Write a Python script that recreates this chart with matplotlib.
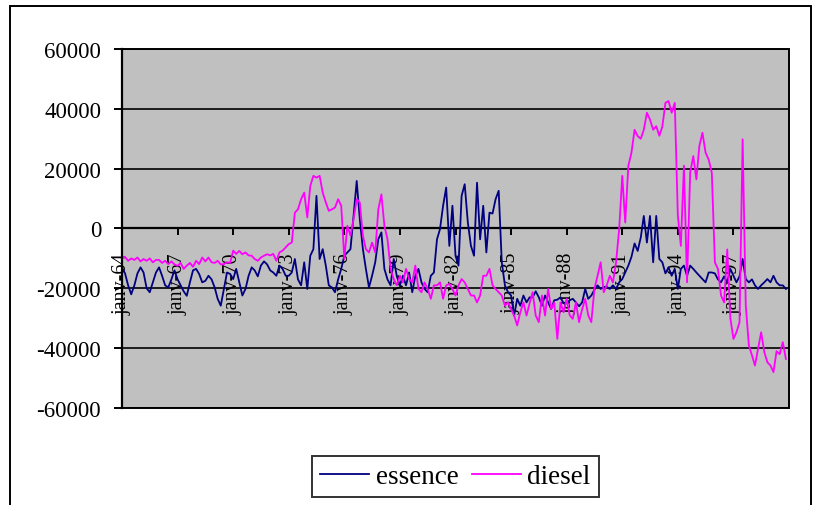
import matplotlib
matplotlib.use("Agg")
import matplotlib.pyplot as plt
from matplotlib.patches import Rectangle
import pandas as pd
import numpy as np

plt.rcParams['font.family'] = ['Liberation Serif', 'DejaVu Serif']

# bimonthly values, in thousands, 1964-1999 (6 per year)
essence_k = [
    -13, -15, -19, -22, -19, -15,
    -13, -14.7, -20, -21.3, -18, -14.7,
    -13, -15.8, -19, -19.7, -17, -14,
    -17, -19, -21, -22.5, -18, -14,
    -13.5, -15.2, -18, -17.5, -15.8, -17,
    -19.7, -23.5, -25.8, -20.2, -14.7, -15.2,
    -16.9, -13.5, -18, -22.4, -20.2, -15.8,
    -13, -14, -16, -12.4, -11, -12,
    -14, -14.7, -15.8, -12.4, -13.5, -15.8,
    -15.8, -14.7, -10.2, -17, -19, -11.3,
    -20.2, -9.1, -6.9, 10.9, -10.2, -6.9,
    -12.4, -19, -19.7, -21.3, -17, -13.5,
    -9.1, -8, -6.9, 4.2, 15.9, 3.1,
    -6.9, -13.5, -19.7, -15.8, -11.3, -3.6,
    -1.3, -13.5, -17, -19, -10.2, -16,
    -19, -15.8, -19, -14.7, -21.3, -15.8,
    -13.5, -18, -20.2, -21.3, -15.8, -14.7,
    -3.6, -0.2, 7.6, 13.7, -5.8, 7.6,
    -9.1, -12.4, 10.9, 14.8, 2, -5.8,
    -9.1, 15.3, -3.6, 7.6, -8, 5.3,
    5, 9.8, 12.6, -11.3, -19, -21.3,
    -22.4, -29.1, -23.5, -25.8, -22.4, -24.7,
    -23, -23, -21, -23, -25.8, -22.4,
    -24.7, -26.9, -24, -23.8, -23, -25,
    -25, -24, -23.5, -24.7, -26, -24.7,
    -20.2, -23.5, -22.4, -20.5, -19, -20.2,
    -19.5, -19.5, -20.2, -19, -20.2, -18,
    -16.9, -14.7, -12.4, -9.5, -5, -7.5,
    -3, 4.2, -4.7, 4.2, -11.3, 4.2,
    -10.2, -11.3, -15, -13, -15.8, -13.5,
    -20.2, -13.5, -12.4, -15.8, -12.4, -13.5,
    -14.7, -15.8, -16.9, -18, -14.7, -14.7,
    -15, -17, -18, -16, -18, -13.5,
    -15.8, -18, -16, -10.2, -16.9, -18,
    -17, -19, -20.2, -19, -18, -16.9,
    -18, -15.8, -18, -19, -19, -20.2,
]

diesel_k = [
    -10, -9.5, -10.8, -10, -10.5, -9.7,
    -11, -10.2, -10.8, -10, -11.3, -10.5,
    -10.5, -11.5, -10.8, -11.9, -11, -12,
    -12.5, -11.5, -13.5, -12.4, -11.5, -12.8,
    -10.8, -11.9, -9.7, -11, -9.7, -11.3,
    -11.5, -10.8, -12, -11.9, -11.3, -11.5,
    -7.4, -8.5, -7.5, -8.6, -8, -9,
    -9.1, -10.2, -10.8, -9.7, -9.1, -8.6,
    -9, -8.5, -10.8, -8, -7.4, -6.3,
    -5.2, -4.7, 5.3, 6.4, 9.8, 12,
    3.7, 14.2, 17.6, 17, 17.6, 12,
    8.7, 5.9, 6.4, 7, 9.8, 7.6,
    -10.2, 0.9, -2.4, 3.1, 9.8, 8.7,
    -2.4, -6.9, -8, -4.7, -8, 6.4,
    11.4, 0.9, -3.6, -13.5, -16.9, -19,
    -15.8, -18, -13.5, -16.9, -18, -12.4,
    -20.2, -21.3, -18, -20.2, -23.5, -19,
    -19, -18, -23.5, -19, -18.5, -20.2,
    -22.4, -19, -16.9, -18, -20.2, -22.4,
    -22.4, -24.7, -22.4, -15.8, -15.8, -13.5,
    -19, -20.2, -21.3, -22.4, -25.8, -24.7,
    -27, -29.1, -32.4, -28, -24.7, -29.1,
    -25, -21.3, -29.1, -31.3, -22.4, -29.1,
    -20.2, -26.9, -24.7, -36.9, -24.7, -28,
    -23.5, -29, -30.2, -24.7, -31.3, -27,
    -23.5, -29, -31.3, -20.2, -15.8, -11.3,
    -21.3, -19, -15.8, -18, -11.3, -0.2,
    17.6, 2, 21, 25.3, 33, 30.9,
    30, 33, 38.7, 36.4, 33, 34.2,
    31, 34, 42, 42.6, 38.7, 42,
    4.2, -5.8, 21, -18, 18.7, 24.2,
    16.4, 27.6, 32, 25.4, 23, 18.7,
    -11.3, -13.5, -22.4, -24.7, -7, -30,
    -36.9, -34.7, -31.3, 29.8, -25.8, -39.1,
    -42.4, -45.8, -40.2, -34.7, -41.3, -44.7,
    -45.8, -48, -41, -42, -38, -43.6,
]

dates = pd.date_range('1964-01-01', periods=len(essence_k), freq='2MS')
essence = np.array(essence_k) * 1000
diesel = np.array(diesel_k) * 1000

tick_years = list(range(1964, 1998, 3))
tick_labels = ['janv-%02d' % (y % 100) for y in tick_years]
y_ticks = [-60000, -40000, -20000, 0, 20000, 40000, 60000]

fig = plt.figure(figsize=(8.16, 5.06), dpi=100)
ax = fig.add_axes([0.1495, 0.1917, 0.8174, 0.7095])
ax.set_facecolor('#c0c0c0')

ax.plot(dates, essence, color='#000080', lw=1.3, label='essence', zorder=3)
ax.plot(dates, diesel, color='#ff00ff', lw=1.3, label='diesel', zorder=3)

ax.set_xlim(pd.Timestamp('1964-01-01'), pd.Timestamp('2000-01-01'))
ax.set_ylim(-60000, 60000)
ax.set_yticks(y_ticks)
ax.set_yticklabels([str(v) for v in y_ticks])
ax.yaxis.grid(True, color='black', lw=1.2, zorder=1)
ax.set_axisbelow(True)

ax.set_xticks([pd.Timestamp('%d-01-01' % y) for y in tick_years])
ax.set_xticklabels(tick_labels)

for s in ['top', 'right']:
    ax.spines[s].set_visible(False)
ax.spines['left'].set_linewidth(1.6)
ax.spines['bottom'].set_position(('data', 0))
ax.spines['bottom'].set_linewidth(1.6)
ax.add_patch(Rectangle((0, 0), 1, 1, transform=ax.transAxes, fill=False,
                       lw=1.4, edgecolor='black', clip_on=False, zorder=4))

ax.tick_params(axis='y', direction='out', length=6, width=1.4, pad=9, labelsize=16.5)
ax.tick_params(axis='x', direction='out', length=5, width=1.4, pad=12,
               labelsize=14.5, labelrotation=90)
for lab in ax.get_xticklabels():
    lab.set_verticalalignment('top')
    lab.set_horizontalalignment('center')

leg = fig.legend(loc='center', bbox_to_anchor=(0.558, 0.0563), ncol=2,
                 fontsize=19.5, frameon=True, fancybox=False, handlelength=1.8,
                 handletextpad=0.25, columnspacing=0.5, borderpad=0.3)
leg.get_frame().set_edgecolor('black')
leg.get_frame().set_linewidth(1.4)

fig.patches.append(Rectangle((10 / 816, -0.01), 801 / 816, 0.996, transform=fig.transFigure,
                             fill=False, lw=1.4, edgecolor='black'))

fig.savefig('out.png', dpi=100)
